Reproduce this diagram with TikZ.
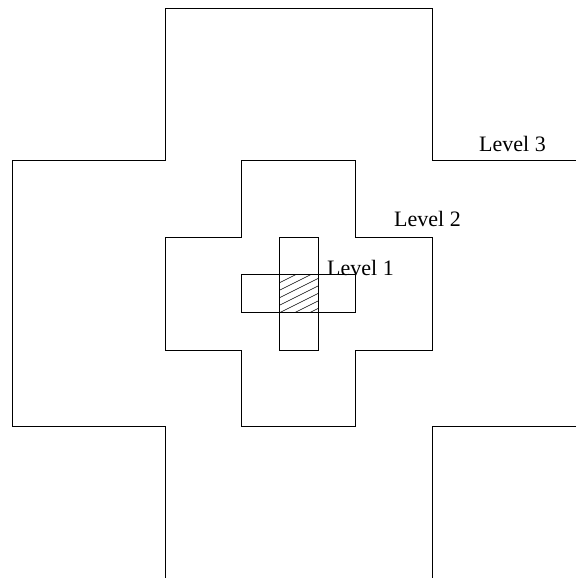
\documentclass[tikz,border=0pt]{standalone}
\usepackage{fontspec}
\setmainfont{Liberation Serif}
\usepackage{tikz}
\tikzset{
  edge/.style={draw,line width=0.8pt,line join=miter},
  hatch/.style={line width=0.6pt},
  lbl/.style={anchor=base west,inner sep=0pt,font=\fontsize{22}{26}\selectfont},
}

\begin{document}
\begin{tikzpicture}[x=1pt,y=-1pt]
\useasboundingbox (0,0) rectangle (576,578);
% level 3
\draw[edge] (165,578) -- (165,426) -- (12,426) -- (12,160) -- (165,160) -- (165,8)
  -- (432,8) -- (432,160) -- (576,160);
\draw[edge] (576,426) -- (432,426) -- (432,578);
% level 2
\draw[edge] (241,160) -- (355,160) -- (355,237) -- (432,237) -- (432,350) -- (355,350)
  -- (355,426) -- (241,426) -- (241,350) -- (165,350) -- (165,237) -- (241,237) -- cycle;
% level 1
\draw[edge] (279,237) rectangle (318,350);
\draw[edge] (241,274) rectangle (355,312);
% hatched centre
\begin{scope}
\clip (279,274) rectangle (318,312);
\foreach \yy in {283,290.5,...,336}
  \draw[hatch] (279,\yy) -- (318,\yy-19.5);
\end{scope}
% labels
\node[lbl] (l3) at (479,151) {Level 3};
\node[lbl] (l2) at (394,226) {Level 2};
\node[lbl] (l1) at (327,275) {Level 1};
\end{tikzpicture}
\end{document}
